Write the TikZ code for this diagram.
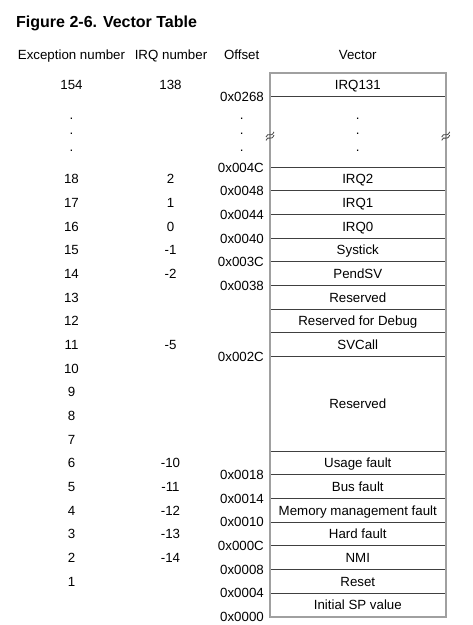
\documentclass[tikz,border=0pt]{standalone}
\usepackage{fontspec}
\setmainfont{Liberation Sans}
\definecolor{framegray}{HTML}{A0A0A0}
\definecolor{rulegray}{HTML}{404040}
\begin{document}
\begin{tikzpicture}[x=1pt,y=23.65pt,
  every node/.style={font=\fontsize{13.3}{16}\selectfont, inner sep=0pt, text height=9.6pt, text depth=0pt},
  offs/.style={anchor=east},
  dotmark/.style={text height=0pt},
  rowline/.style={draw=rulegray, line width=1pt},
  frameline/.style={draw=framegray, line width=1.8pt},
  breakmark/.style={draw=rulegray, line width=0.8pt}]
\useasboundingbox (0,-0.351) rectangle (472,26.076);

\node[anchor=west, font=\fontsize{16}{19}\selectfont\bfseries, text height=11.5pt] (title) at (16,25.146) {Figure 2-6. Vector Table};

\node (hexc) at (71.5,23.78) {Exception number};
\node (hirq) at (171,23.78) {IRQ number};
\node (hoff) at (241.7,23.78) {Offset};
\node (hvec) at (357.8,23.78) {Vector};

% table lines
\draw[rowline] (270,22) -- (445.7,22);
\draw[rowline] (270,19) -- (445.7,19);
\draw[rowline] (270,18) -- (445.7,18);
\draw[rowline] (270,17) -- (445.7,17);
\draw[rowline] (270,16) -- (445.7,16);
\draw[rowline] (270,15) -- (445.7,15);
\draw[rowline] (270,14) -- (445.7,14);
\draw[rowline] (270,13) -- (445.7,13);
\draw[rowline] (270,12) -- (445.7,12);
\draw[rowline] (270,11) -- (445.7,11);
\draw[rowline] (270,7) -- (445.7,7);
\draw[rowline] (270,6) -- (445.7,6);
\draw[rowline] (270,5) -- (445.7,5);
\draw[rowline] (270,4) -- (445.7,4);
\draw[rowline] (270,3) -- (445.7,3);
\draw[rowline] (270,2) -- (445.7,2);
\draw[rowline] (270,1) -- (445.7,1);
\draw[frameline] (270,0) rectangle (445.7,23);

% break marks
\draw[breakmark] (266,20.28) .. controls (268,20.52) and (271,20.22) .. (274,20.50);
\draw[breakmark] (266,20.14) .. controls (268,20.38) and (271,20.08) .. (274,20.36);
\draw[breakmark] (441.7,20.28) .. controls (443.7,20.52) and (446.7,20.22) .. (449.7,20.50);
\draw[breakmark] (441.7,20.14) .. controls (443.7,20.38) and (446.7,20.08) .. (449.7,20.36);

% vectors
\node (v131) at (357.8,22.5) {IRQ131};
\node[dotmark] (vd1) at (357.8,21.04) {.};
\node[dotmark] (vd2) at (357.8,20.37) {.};
\node[dotmark] (vd3) at (357.8,19.65) {.};
\node (virq2) at (357.8,18.5) {IRQ2};
\node (virq1) at (357.8,17.5) {IRQ1};
\node (virq0) at (357.8,16.5) {IRQ0};
\node (vsys) at (357.8,15.5) {Systick};
\node (vpend) at (357.8,14.5) {PendSV};
\node (vres1) at (357.8,13.5) {Reserved};
\node (vdbg) at (357.8,12.5) {Reserved for Debug};
\node (vsvc) at (357.8,11.5) {SVCall};
\node (vres2) at (357.8,9) {Reserved};
\node (vusage) at (357.8,6.5) {Usage fault};
\node (vbus) at (357.8,5.5) {Bus fault};
\node (vmem) at (357.8,4.5) {Memory management fault};
\node (vhard) at (357.8,3.5) {Hard fault};
\node (vnmi) at (357.8,2.5) {NMI};
\node (vreset) at (357.8,1.5) {Reset};
\node (vsp) at (357.8,0.5) {Initial SP value};

% offsets
\node[offs] (o268) at (264,22) {0x0268};
\node[dotmark] (od1) at (241.7,21.04) {.};
\node[dotmark] (od2) at (241.7,20.37) {.};
\node[dotmark] (od3) at (241.7,19.65) {.};
\node[offs] (o4c) at (264,19) {0x004C};
\node[offs] (o48) at (264,18) {0x0048};
\node[offs] (o44) at (264,17) {0x0044};
\node[offs] (o40) at (264,16) {0x0040};
\node[offs] (o3c) at (264,15) {0x003C};
\node[offs] (o38) at (264,14) {0x0038};
\node[offs] (o2c) at (264,11) {0x002C};
\node[offs] (o18) at (264,6) {0x0018};
\node[offs] (o14) at (264,5) {0x0014};
\node[offs] (o10) at (264,4) {0x0010};
\node[offs] (o0c) at (264,3) {0x000C};
\node[offs] (o08) at (264,2) {0x0008};
\node[offs] (o04) at (264,1) {0x0004};
\node[offs] (o00) at (264,0) {0x0000};

% exception numbers
\node (e154) at (71.5,22.5) {154};
\node[dotmark] (ed1) at (71.5,21.04) {.};
\node[dotmark] (ed2) at (71.5,20.37) {.};
\node[dotmark] (ed3) at (71.5,19.65) {.};
\node (e18) at (71.5,18.5) {18};
\node (e17) at (71.5,17.5) {17};
\node (e16) at (71.5,16.5) {16};
\node (e15) at (71.5,15.5) {15};
\node (e14) at (71.5,14.5) {14};
\node (e13) at (71.5,13.5) {13};
\node (e12) at (71.5,12.5) {12};
\node (e11) at (71.5,11.5) {11};
\node (e10) at (71.5,10.5) {10};
\node (e9) at (71.5,9.5) {9};
\node (e8) at (71.5,8.5) {8};
\node (e7) at (71.5,7.5) {7};
\node (e6) at (71.5,6.5) {6};
\node (e5) at (71.5,5.5) {5};
\node (e4) at (71.5,4.5) {4};
\node (e3) at (71.5,3.5) {3};
\node (e2) at (71.5,2.5) {2};
\node (e1) at (71.5,1.5) {1};

% IRQ numbers
\node (i138) at (170.5,22.5) {138};
\node (i2) at (170.5,18.5) {2};
\node (i1) at (170.5,17.5) {1};
\node (i0) at (170.5,16.5) {0};
\node (im1) at (170.5,15.5) {-1};
\node (im2) at (170.5,14.5) {-2};
\node (im5) at (170.5,11.5) {-5};
\node (im10) at (170.5,6.5) {-10};
\node (im11) at (170.5,5.5) {-11};
\node (im12) at (170.5,4.5) {-12};
\node (im13) at (170.5,3.5) {-13};
\node (im14) at (170.5,2.5) {-14};
\end{tikzpicture}
\end{document}
